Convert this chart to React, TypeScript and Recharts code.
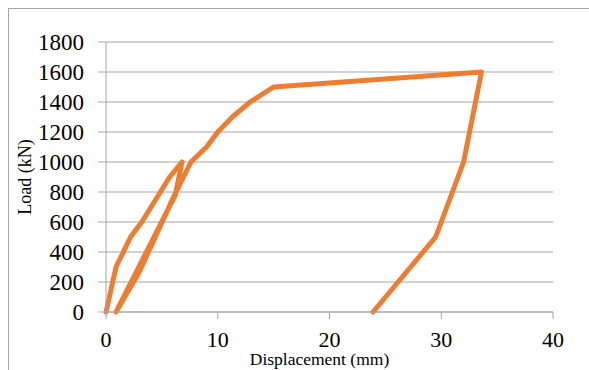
import { CartesianGrid, Label, Line, LineChart, XAxis, YAxis } from 'recharts';

// load–displacement path, in drawing order (load, unload, reload, unload)
const displacementMm = [0, 0.9, 2.2, 3.2, 5.7, 6.8, 6.2, 0.9, 3, 6, 7.6, 9, 10, 11.3, 12.9, 15, 33.6, 32, 29.5, 23.9];
const loadKn = [0, 300, 500, 600, 900, 1000, 780, 0, 270, 760, 1000, 1100, 1200, 1300, 1400, 1500, 1600, 1000, 500, 0];

const xTicks = [0, 10, 20, 30, 40];
const yTicks = [0, 200, 400, 600, 800, 1000, 1200, 1400, 1600, 1800];

const data = displacementMm.map((x, i) => ({ x, load: loadKn[i] }));

const FONT = '"Liberation Serif", "Times New Roman", serif';
const GRAY = '#a6a6a6';

function XTick({ x, y, payload }: any) {
  return (
    <text x={x} y={y} dy={15} textAnchor="middle" fontSize={22} fontFamily={FONT} fill="#000">
      {payload.value}
    </text>
  );
}

function YTick({ x, y, payload }: any) {
  return (
    <text x={x} y={y} dy={8} textAnchor="end" fontSize={23} fontFamily={FONT} fill="#000">
      {payload.value}
    </text>
  );
}

export default function App() {
  return (
    <div
      style={{
        position: 'absolute',
        left: 0,
        top: 0,
        width: 589,
        height: 370,
        background: '#fff',
        overflow: 'hidden',
        fontFamily: FONT,
      }}
    >
      <div
        style={{
          position: 'absolute',
          left: 8,
          top: 8,
          right: 0,
          bottom: 0,
          borderTop: `1.5px solid ${GRAY}`,
          borderLeft: `1.5px solid ${GRAY}`,
        }}
      />
      <LineChart
        width={589}
        height={370}
        data={data}
        margin={{ top: 42, right: 36, left: 0, bottom: 0 }}
        style={{ position: 'absolute', left: 0, top: 0 }}
      >
        <CartesianGrid vertical={false} stroke={GRAY} strokeWidth={1.2} />
        <XAxis
          dataKey="x"
          type="number"
          domain={[0, 40]}
          ticks={xTicks}
          interval={0}
          height={58}
          tickSize={7}
          tickMargin={13}
          stroke={GRAY}
          tick={<XTick />}
        >
          <Label
            content={({ viewBox }: any) => (
              <text
                x={viewBox.x + viewBox.width / 2 - 10}
                y={365}
                textAnchor="middle"
                fontSize={17.5}
                fontFamily={FONT}
                fill="#000"
              >
                Displacement (mm)
              </text>
            )}
          />
        </XAxis>
        <YAxis
          type="number"
          domain={[0, 1800]}
          ticks={yTicks}
          interval={0}
          width={106}
          tickSize={8}
          tickMargin={14}
          stroke={GRAY}
          tick={<YTick />}
        >
          <Label
            content={({ viewBox }: any) => {
              const cx = 25;
              const cy = viewBox.y + viewBox.height / 2;
              return (
                <text
                  x={cx}
                  y={cy}
                  transform={`rotate(-90, ${cx}, ${cy})`}
                  textAnchor="middle"
                  dominantBaseline="central"
                  fontSize={18}
                  fontFamily={FONT}
                  fill="#000"
                >
                  Load (kN)
                </text>
              );
            }}
          />
        </YAxis>
        <Line
          type="linear"
          dataKey="load"
          stroke="#ED7D31"
          strokeWidth={5}
          strokeLinejoin="round"
          strokeLinecap="round"
          dot={false}
          activeDot={false}
          isAnimationActive={false}
        />
      </LineChart>
    </div>
  );
}
